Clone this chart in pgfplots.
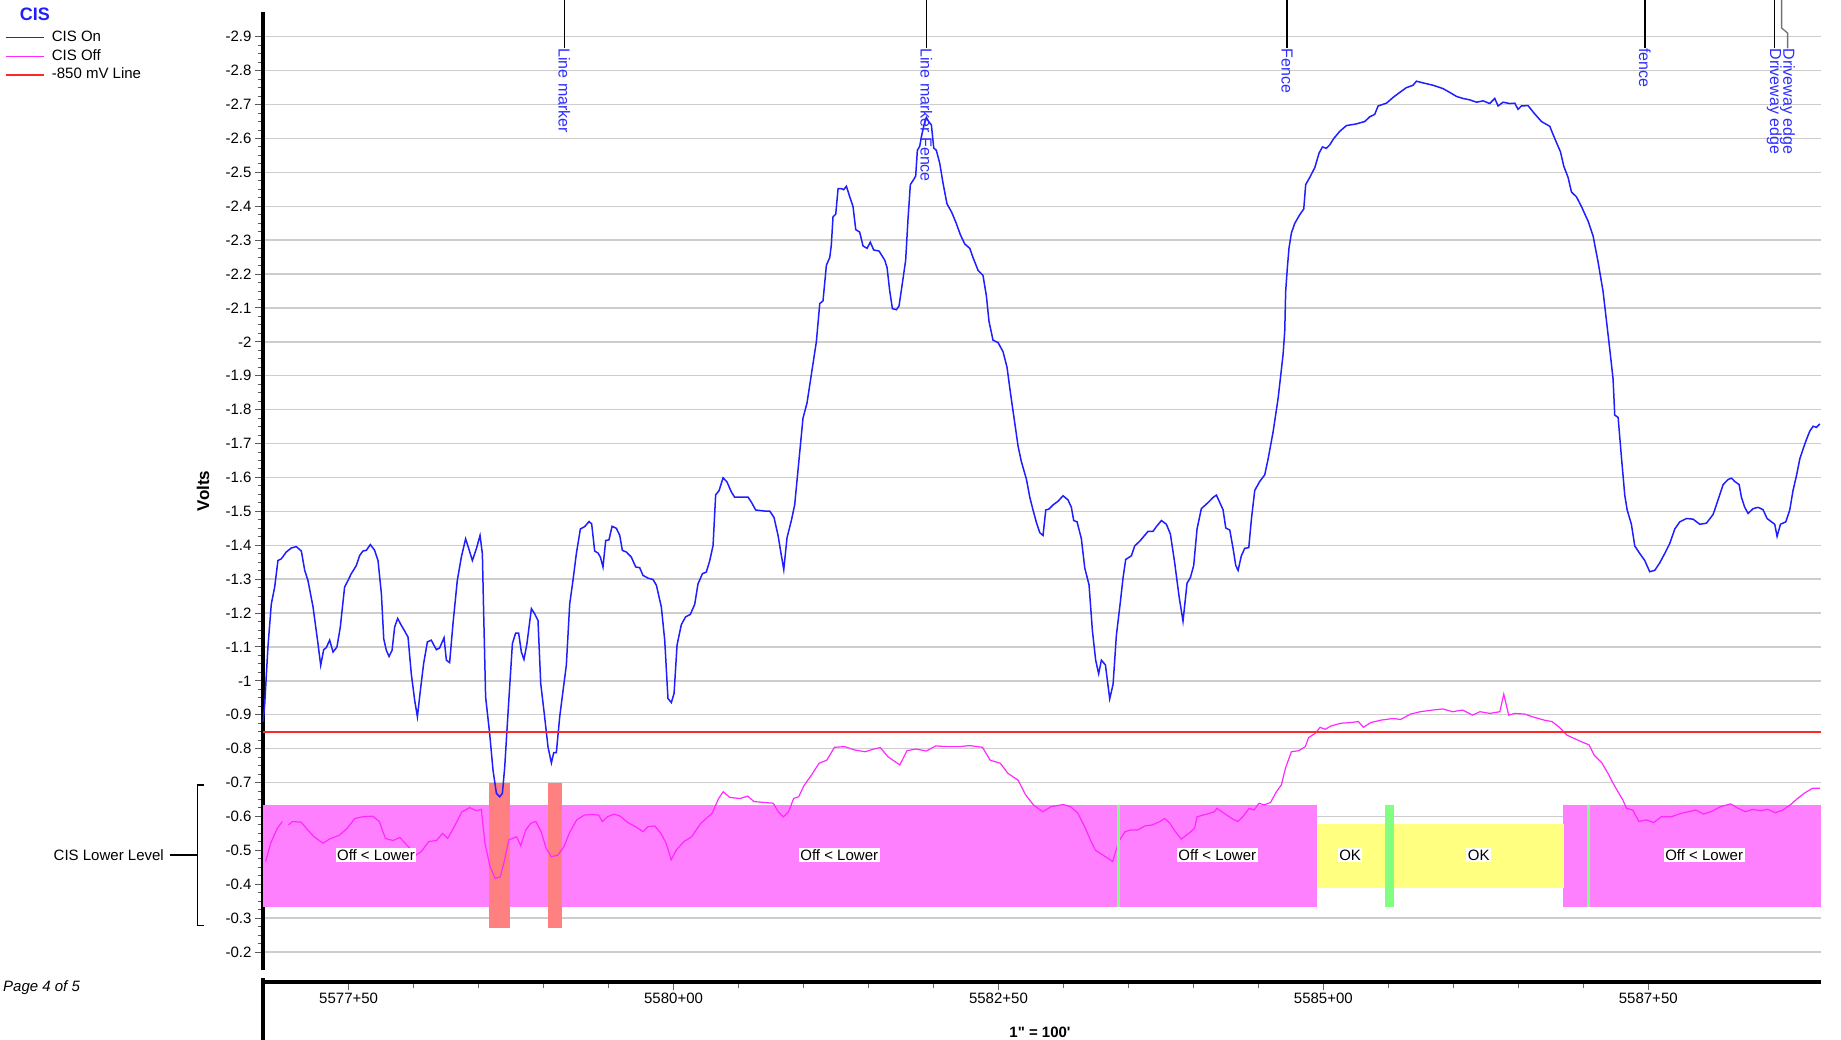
\documentclass[border=0pt]{standalone}
\usepackage{fontspec}
\setmainfont{Liberation Sans}
\usepackage{pgfplots}
\pgfplotsset{compat=1.18}
\usepackage{pgfplotstable}

\definecolor{cisblue}{RGB}{30,30,255}
\definecolor{cismag}{RGB}{255,40,255}
\definecolor{cisred}{RGB}{255,40,40}
\definecolor{bandmag}{RGB}{255,128,255}
\definecolor{bandsal}{RGB}{255,128,128}
\definecolor{bandyel}{RGB}{255,255,128}
\definecolor{bandgrn}{RGB}{128,255,128}
\definecolor{gridgray}{RGB}{205,205,205}
\definecolor{annblue}{RGB}{45,45,255}
\newcommand\fA{\fontsize{15}{17}\selectfont}
\newcommand\fB{\fontsize{16}{18}\selectfont}

\pgfplotstableread{
x y
184.2 -0.88
185.4 -0.93
187.9 -1.10
190.5 -1.227
193.1 -1.277
195.6 -1.355
198.2 -1.36
202.0 -1.38
205.9 -1.392
209.7 -1.396
213.6 -1.383
216.2 -1.326
218.7 -1.296
222.6 -1.218
226.4 -1.11
228.5 -1.046
230.8 -1.092
232.8 -1.098
235.4 -1.12
238.0 -1.085
241.0 -1.10
243.6 -1.159
246.9 -1.277
249.5 -1.296
252.0 -1.316
255.9 -1.34
258.5 -1.37
261.0 -1.383
263.6 -1.385
266.7 -1.402
270.0 -1.385
272.6 -1.355
275.2 -1.257
277.0 -1.124
279.0 -1.09
281.1 -1.072
283.4 -1.09
285.4 -1.159
287.7 -1.184
290.5 -1.164
293.1 -1.147
295.7 -1.129
298.2 -1.021
300.8 -0.943
302.9 -0.894
305.2 -0.972
307.7 -1.051
310.6 -1.115
313.6 -1.12
317.5 -1.092
320.0 -1.097
323.4 -1.127
325.2 -1.061
327.7 -1.054
330.3 -1.169
333.6 -1.296
336.7 -1.365
340.0 -1.419
342.1 -1.394
345.2 -1.355
348.3 -1.39
351.1 -1.429
352.9 -1.375
353.9 -1.198
355.4 -0.952
358.5 -0.845
361.1 -0.736
363.7 -0.668
366.2 -0.658
368.3 -0.668
370.1 -0.746
372.6 -0.903
376.0 -1.110
378.5 -1.141
380.8 -1.141
382.9 -1.085
384.9 -1.063
387.2 -1.110
390.6 -1.213
393.1 -1.198
395.7 -1.178
397.8 -0.992
400.8 -0.894
403.4 -0.805
406.0 -0.758
407.8 -0.788
409.8 -0.788
412.4 -0.894
415.0 -0.972
417.5 -1.046
420.1 -1.227
422.6 -1.296
425.2 -1.375
428.3 -1.448
431.6 -1.455
435.0 -1.47
437.0 -1.463
439.3 -1.383
441.9 -1.377
443.7 -1.365
445.7 -1.336
447.8 -1.414
450.3 -1.416
452.7 -1.456
456.0 -1.45
458.6 -1.429
460.6 -1.385
463.7 -1.38
467.5 -1.365
470.9 -1.336
473.9 -1.334
476.5 -1.311
480.4 -1.303
484.2 -1.299
486.8 -1.282
490.6 -1.218
493.2 -1.12
495.7 -0.948
498.3 -0.936
500.4 -0.963
502.7 -1.106
506.0 -1.166
509.3 -1.189
512.9 -1.196
516.3 -1.226
518.8 -1.286
522.2 -1.316
525.2 -1.321
527.8 -1.354
530.4 -1.399
532.4 -1.549
535.0 -1.561
538.1 -1.599
541.1 -1.587
544.5 -1.557
547.0 -1.542
557.3 -1.542
559.9 -1.527
563.2 -1.504
570.1 -1.501
574.0 -1.501
577.3 -1.482
580.4 -1.429
583.0 -1.369
584.8 -1.328
587.3 -1.422
590.7 -1.474
593.2 -1.519
596.6 -1.655
599.6 -1.775
602.7 -1.820
606.0 -1.903
609.9 -2.001
612.5 -2.113
615.0 -2.121
617.6 -2.226
620.2 -2.249
621.4 -2.286
622.7 -2.369
624.8 -2.377
626.6 -2.452
629.1 -2.452
630.9 -2.449
633.0 -2.459
635.5 -2.429
638.1 -2.399
640.2 -2.331
643.2 -2.324
645.8 -2.283
648.9 -2.276
651.4 -2.294
654.0 -2.271
658.1 -2.268
662.5 -2.241
664.3 -2.219
666.3 -2.151
668.4 -2.098
671.5 -2.095
673.5 -2.106
676.1 -2.174
678.6 -2.241
680.4 -2.362
682.2 -2.464
684.8 -2.479
686.3 -2.489
687.6 -2.565
689.4 -2.577
690.7 -2.605
692.7 -2.640
694.5 -2.662
696.3 -2.650
698.4 -2.640
700.2 -2.572
702.2 -2.565
704.8 -2.527
707.4 -2.467
710.4 -2.407
713.8 -2.384
717.1 -2.354
720.7 -2.316
724.0 -2.289
727.9 -2.276
730.4 -2.249
734.3 -2.211
738.1 -2.196
740.7 -2.136
742.7 -2.061
745.8 -2.005
749.7 -1.998
753.5 -1.971
756.6 -1.925
759.2 -1.850
761.7 -1.783
765.1 -1.692
767.6 -1.647
771.5 -1.595
774.1 -1.542
776.6 -1.504
779.2 -1.467
781.8 -1.437
784.3 -1.429
786.4 -1.504
788.9 -1.507
792.0 -1.519
795.9 -1.530
799.7 -1.546
803.5 -1.534
806.1 -1.512
807.9 -1.473
810.5 -1.469
813.8 -1.419
816.4 -1.333
819.7 -1.283
822.3 -1.147
824.8 -1.061
827.1 -1.021
829.2 -1.061
832.3 -1.047
835.6 -0.947
838.2 -0.990
840.7 -1.133
843.8 -1.233
845.9 -1.305
847.9 -1.358
852.3 -1.369
854.8 -1.398
858.7 -1.412
865.1 -1.441
868.9 -1.441
871.5 -1.455
875.4 -1.473
879.2 -1.462
882.3 -1.433
885.6 -1.348
889.0 -1.248
892.0 -1.176
895.1 -1.288
897.7 -1.305
900.2 -1.340
902.8 -1.448
906.1 -1.508
911.3 -1.526
915.1 -1.541
917.7 -1.548
920.3 -1.526
922.8 -1.505
924.9 -1.451
928.0 -1.445
930.5 -1.391
932.6 -1.340
934.4 -1.326
936.9 -1.369
939.5 -1.391
942.6 -1.393
944.6 -1.476
947.2 -1.562
951.0 -1.588
954.9 -1.608
957.5 -1.655
961.3 -1.734
965.2 -1.834
969.0 -1.963
970.3 -2.034
971.0 -2.149
972.3 -2.220
973.6 -2.278
975.4 -2.321
977.9 -2.349
981.8 -2.375
984.9 -2.392
986.4 -2.464
989.5 -2.485
993.4 -2.514
996.7 -2.557
999.3 -2.575
1002.3 -2.571
1004.9 -2.581
1008.0 -2.600
1012.6 -2.621
1017.7 -2.638
1025.4 -2.643
1031.8 -2.650
1035.7 -2.664
1039.5 -2.671
1042.1 -2.696
1048.5 -2.704
1053.6 -2.721
1058.8 -2.736
1063.9 -2.750
1069.0 -2.757
1071.6 -2.769
1076.7 -2.764
1084.4 -2.757
1092.1 -2.747
1097.2 -2.736
1102.4 -2.724
1107.5 -2.718
1112.6 -2.714
1117.8 -2.707
1122.9 -2.711
1128.0 -2.703
1131.9 -2.718
1134.4 -2.696
1138.3 -2.707
1143.4 -2.703
1147.3 -2.704
1149.8 -2.686
1152.4 -2.696
1157.5 -2.697
1161.4 -2.678
1167.8 -2.650
1174.2 -2.636
1178.0 -2.600
1182.4 -2.561
1185.0 -2.518
1188.3 -2.485
1190.9 -2.442
1194.7 -2.428
1198.6 -2.399
1203.7 -2.356
1207.5 -2.313
1211.4 -2.235
1215.2 -2.149
1217.8 -2.063
1220.4 -1.977
1222.9 -1.891
1224.2 -1.784
1226.8 -1.777
1229.3 -1.662
1231.9 -1.548
1233.7 -1.505
1237.0 -1.462
1239.6 -1.398
1243.4 -1.376
1247.3 -1.355
1251.1 -1.322
1255.0 -1.326
1258.8 -1.348
1262.7 -1.376
1266.5 -1.405
1270.4 -1.448
1274.2 -1.469
1279.4 -1.479
1284.5 -1.477
1289.6 -1.462
1294.7 -1.465
1299.9 -1.491
1303.7 -1.534
1307.6 -1.579
1311.4 -1.594
1314.0 -1.598
1316.6 -1.588
1319.9 -1.579
1321.7 -1.541
1324.2 -1.512
1326.8 -1.494
1330.7 -1.508
1334.5 -1.512
1338.3 -1.505
1341.4 -1.479
1344.8 -1.469
1347.3 -1.462
1349.1 -1.426
1351.7 -1.462
1355.8 -1.469
1358.9 -1.505
1361.4 -1.562
1364.0 -1.605
1366.6 -1.655
1369.1 -1.684
1371.7 -1.712
1374.3 -1.737
1376.8 -1.751
1379.4 -1.748
1382.0 -1.758
}\cison

\pgfplotstableread{
x y
186.1 -0.467
190.0 -0.521
195.1 -0.565
199.0 -0.585
201.0 nan
203.7 -0.575
206.9 -0.585
213.5 -0.583
218.6 -0.560
223.4 -0.540
230.4 -0.521
235.1 -0.533
243.0 -0.545
248.9 -0.565
254.8 -0.594
260.7 -0.599
268.5 -0.601
273.6 -0.585
278.3 -0.535
284.2 -0.529
289.3 -0.538
296.0 -0.511
301.9 -0.486
305.8 -0.496
311.7 -0.526
317.6 -0.529
322.3 -0.550
326.2 -0.535
331.3 -0.570
337.2 -0.614
343.1 -0.626
348.2 -0.617
352.1 -0.621
354.9 -0.521
358.8 -0.452
362.7 -0.417
366.7 -0.422
369.4 -0.462
373.3 -0.531
379.2 -0.540
382.4 -0.514
386.3 -0.560
390.2 -0.580
394.1 -0.585
398.1 -0.555
402.0 -0.506
405.9 -0.481
411.0 -0.486
415.7 -0.511
419.7 -0.550
425.5 -0.590
431.4 -0.604
437.3 -0.606
442.4 -0.604
445.2 -0.585
449.1 -0.599
454.2 -0.607
458.9 -0.601
464.8 -0.582
470.7 -0.570
476.6 -0.555
480.5 -0.570
485.6 -0.572
490.3 -0.550
494.3 -0.521
498.2 -0.472
502.1 -0.501
508.0 -0.526
513.9 -0.540
521.0 -0.580
529.6 -0.609
534.7 -0.653
538.2 -0.673
543.3 -0.656
551.2 -0.653
557.1 -0.660
561.8 -0.644
570.8 -0.641
576.7 -0.639
580.6 -0.614
584.5 -0.599
588.5 -0.614
592.4 -0.653
596.3 -0.658
600.2 -0.690
606.1 -0.722
612.0 -0.757
617.9 -0.766
623.8 -0.804
631.7 -0.806
639.5 -0.796
647.4 -0.791
653.3 -0.798
659.1 -0.803
665.0 -0.776
674.1 -0.752
679.6 -0.794
686.6 -0.799
694.5 -0.793
701.6 -0.808
710.2 -0.806
720.0 -0.806
727.9 -0.809
737.7 -0.804
743.6 -0.766
751.4 -0.757
757.3 -0.727
765.1 -0.707
771.0 -0.663
776.9 -0.634
784.0 -0.614
790.7 -0.629
799.7 -0.635
805.4 -0.629
811.2 -0.609
816.9 -0.565
820.7 -0.531
824.5 -0.501
828.3 -0.491
834.1 -0.477
837.9 -0.467
842.5 -0.526
847.4 -0.555
851.3 -0.560
857.0 -0.560
862.7 -0.572
868.4 -0.575
874.2 -0.585
878.0 -0.594
881.8 -0.580
885.6 -0.558
890.6 -0.533
897.1 -0.552
900.9 -0.565
902.8 -0.599
907.4 -0.604
912.4 -0.609
916.2 -0.614
918.1 -0.624
923.8 -0.609
929.5 -0.594
934.1 -0.585
938.0 -0.599
942.9 -0.624
946.7 -0.619
950.5 -0.639
954.4 -0.634
959.3 -0.641
963.9 -0.673
967.7 -0.693
970.8 -0.742
975.4 -0.791
981.1 -0.794
986.1 -0.806
988.7 -0.833
993.7 -0.845
997.5 -0.863
1001.3 -0.857
1005.9 -0.867
1013.6 -0.875
1021.2 -0.877
1026.9 -0.880
1030.8 -0.863
1036.5 -0.877
1044.1 -0.884
1053.7 -0.889
1059.4 -0.886
1067.0 -0.902
1074.7 -0.909
1084.2 -0.914
1091.9 -0.917
1099.5 -0.909
1107.1 -0.914
1114.8 -0.899
1120.5 -0.909
1128.1 -0.904
1135.8 -0.909
1138.8 -0.961
1142.6 -0.899
1147.2 -0.904
1154.9 -0.902
1162.5 -0.892
1170.1 -0.884
1175.9 -0.880
1181.6 -0.863
1187.3 -0.840
1193.1 -0.830
1198.8 -0.820
1204.5 -0.811
1208.3 -0.781
1214.1 -0.759
1219.0 -0.727
1222.9 -0.698
1226.7 -0.673
1230.5 -0.648
1233.2 -0.624
1238.1 -0.619
1242.7 -0.585
1248.4 -0.590
1254.2 -0.582
1259.9 -0.599
1267.5 -0.599
1275.2 -0.609
1280.9 -0.614
1286.6 -0.619
1292.4 -0.607
1298.1 -0.614
1305.7 -0.629
1313.4 -0.637
1319.1 -0.624
1324.8 -0.614
1330.5 -0.621
1336.3 -0.617
1342.0 -0.621
1347.7 -0.611
1353.5 -0.619
1359.2 -0.634
1364.9 -0.653
1370.6 -0.670
1376.4 -0.683
1382.1 -0.683
}\cisoff

\begin{document}
\begin{tikzpicture}
\begin{axis}[
  at={(263pt,69pt)}, anchor=south west,
  scale only axis, width=1558pt, height=958.3pt,
  xmin=184.1, xmax=1382.9,
  ymin=-2.974, ymax=-0.147,
  y dir=reverse,
  axis x line=none,
  axis y line*=left,
  y axis line style={-, line width=3.5pt, black},
  ytick={-2.9,-2.8,-2.7,-2.6,-2.5,-2.4,-2.3,-2.2,-2.1,-2,-1.9,-1.8,-1.7,-1.6,-1.5,-1.4,-1.3,-1.2,-1.1,-1,-0.9,-0.8,-0.7,-0.6,-0.5,-0.4,-0.3,-0.2},
  minor y tick num=3,
  tick align=outside,
  major tick length=8pt, minor tick length=5pt,
  tick style={black!65, line width=1pt},
  ymajorgrids, major grid style={gridgray, line width=1.4pt},
  /pgf/number format/assume math mode=true,
  /pgf/number format/fixed,
  yticklabel style={font=\fA},
  ylabel={Volts},
  ylabel style={at={(axis description cs:-0.0385,0.5)}, anchor=center, font=\bfseries\fontsize{17}{19}\selectfont},
  clip=false,
  unbounded coords=jump,
  legend style={at={(axis description cs:-0.1656,0.9818)}, anchor=north west, draw=none, fill=none, inner sep=0pt,
    font=\fA, row sep=2.8pt, nodes={inner sep=1pt, text height=11pt, text depth=3pt}},
  legend cell align=left,
  legend image code/.code={\draw[#1] (0pt,0pt) -- (38pt,0pt); \path (44pt,0pt);},
]
% bands
\addplot[fill=bandmag, draw=none, forget plot] coordinates {(184.1,-0.633) (995.2,-0.633) (995.2,-0.333) (184.1,-0.333)} -- cycle;
\addplot[fill=bandmag, draw=none, forget plot] coordinates {(1184.6,-0.633) (1382.9,-0.633) (1382.9,-0.333) (1184.6,-0.333)} -- cycle;
\addplot[fill=bandyel, draw=none, forget plot] coordinates {(995.2,-0.578) (1048.0,-0.578) (1048.0,-0.388) (995.2,-0.388)} -- cycle;
\addplot[fill=bandyel, draw=none, forget plot] coordinates {(1053.7,-0.578) (1185.4,-0.578) (1185.4,-0.388) (1053.7,-0.388)} -- cycle;
\addplot[fill=bandsal, draw=none, forget plot] coordinates {(358.0,-0.698) (374.5,-0.698) (374.5,-0.270) (358.0,-0.270)} -- cycle;
\addplot[fill=bandsal, draw=none, forget plot] coordinates {(403.4,-0.698) (413.8,-0.698) (413.8,-0.270) (403.4,-0.270)} -- cycle;
% curves
\addplot[cisblue, line width=1.5pt] table[x=x,y=y] {\cison};
\addlegendentry{CIS On}
\addplot[cismag, line width=1.2pt] table[x=x,y=y] {\cisoff};
\addlegendentry{CIS Off}
\addplot[cisred, line width=1.7pt] coordinates {(184.1,-0.85) (1382.9,-0.85)};
\addlegendentry{-850 mV Line}
% green markers
\addplot[fill=bandgrn, draw=none, forget plot] coordinates {(840.9,-0.633) (843.3,-0.633) (843.3,-0.333) (840.9,-0.333)} -- cycle;
\addplot[fill=bandgrn, draw=none, forget plot] coordinates {(1047.6,-0.633) (1054.2,-0.633) (1054.2,-0.333) (1047.6,-0.333)} -- cycle;
\addplot[fill=bandgrn, draw=none, forget plot] coordinates {(1202.6,-0.633) (1205.0,-0.633) (1205.0,-0.333) (1202.6,-0.333)} -- cycle;
% band labels
\begin{scope}[every node/.style={fill=white, inner sep=1.5pt, font=\fA}]
\node at (axis cs:271,-0.486) {Off < Lower};
\node at (axis cs:627.5,-0.486) {Off < Lower};
\node at (axis cs:918.4,-0.486) {Off < Lower};
\node at (axis cs:1020.6,-0.486) {OK};
\node at (axis cs:1119.5,-0.486) {OK};
\node at (axis cs:1293,-0.486) {Off < Lower};
\end{scope}
% annotations
\begin{scope}[every node/.style={rotate=-90, anchor=west, inner sep=0pt, text=annblue, font=\fB}]
\draw[black, line width=1.5pt] (axis cs:416.0,-3.01) -- (axis cs:416.0,-2.866);
\node at (axis cs:416.0,-2.866) {Line marker};
\draw[black, line width=1.5pt] (axis cs:694.5,-3.01) -- (axis cs:694.5,-2.866);
\node at (axis cs:694.5,-2.866) {Line marker Fence};
\draw[black, line width=1.5pt] (axis cs:972.1,-3.01) -- (axis cs:972.1,-2.866);
\node at (axis cs:972.1,-2.866) {Fence};
\draw[black, line width=1.5pt] (axis cs:1247.3,-3.01) -- (axis cs:1247.3,-2.866);
\node at (axis cs:1247.3,-2.866) {fence};
\draw[black, line width=1.5pt] (axis cs:1347.0,-3.01) -- (axis cs:1347.0,-2.866);
\node at (axis cs:1347.0,-2.866) {Driveway edge};
\draw[black!55, line width=1.3pt] (axis cs:1352.6,-3.01) -- (axis cs:1352.6,-2.926) -- (axis cs:1357.2,-2.911) -- (axis cs:1357.2,-2.866);
\node at (axis cs:1357.2,-2.866) {Driveway edge};
\end{scope}
\end{axis}

% x axis panel
\begin{axis}[
  at={(263pt,57.3pt)}, anchor=south west,
  scale only axis, width=1558pt, height=2pt,
  xmin=184.1, xmax=1382.9, ymin=0, ymax=1,
  axis x line*=bottom, axis y line=none,
  x axis line style={-, line width=4pt, black},
  xtick={250,500,750,1000,1250},
  xticklabels={5577+50,5580+00,5582+50,5585+00,5587+50},
  minor x tick num=4,
  tick align=outside, major tick length=8pt, minor tick length=6pt,
  tick style={black!60, line width=1pt},
  xticklabel style={font=\fA},
]
\addplot[draw=none] coordinates {(184.1,0) (1382.9,1)};
\end{axis}

\draw[line width=4pt] (263pt,61pt) -- (263pt,-3pt);
\node[anchor=west, font=\itshape\fA, inner sep=0pt] at (3pt,51pt) {Page 4 of 5};
\node[anchor=north, font=\bfseries\fA, inner sep=0pt] at (1040pt,12pt) {1\textquotedbl{} = 100\textquotesingle};
\node[font=\bfseries\fontsize{18}{20}\selectfont, text=cisblue, inner sep=0pt] at (35pt,1025pt) {CIS};
\draw[line width=1.5pt] (204pt,254pt) -- (197.7pt,254pt) -- (197.7pt,113.3pt) -- (204pt,113.3pt);
\draw[line width=1.5pt] (170pt,184pt) -- (197.7pt,184pt);
\node[anchor=east, font=\fA, inner sep=0pt] at (164pt,184pt) {CIS Lower Level};

\pgfresetboundingbox
\path[use as bounding box] (0pt,0pt) rectangle (1841pt,1039pt);
\end{tikzpicture}
\end{document}
